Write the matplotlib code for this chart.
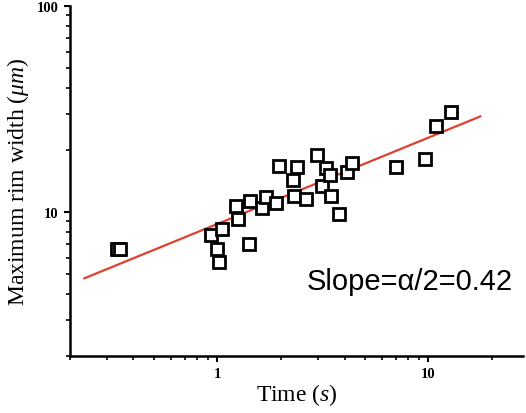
import matplotlib
matplotlib.use('Agg')
import matplotlib.pyplot as plt
from matplotlib.ticker import LogLocator, NullFormatter, FixedLocator, FixedFormatter

plt.rcParams['mathtext.fontset'] = 'custom'
plt.rcParams['mathtext.rm'] = 'Liberation Serif'
plt.rcParams['mathtext.it'] = 'Liberation Serif:italic'

# measured points (time in s, rim width in um)
time_s = [0.335, 0.345, 0.93, 1.00, 1.02, 1.05, 1.22, 1.25, 1.41, 1.42,
          1.63, 1.69, 1.89, 1.96, 2.27, 2.30, 2.38, 2.64, 2.95, 3.13,
          3.26, 3.43, 3.44, 3.76, 4.12, 4.35, 7.03, 9.6, 10.9, 12.8]
rim_width = [6.6, 6.6, 7.72, 6.58, 5.69, 8.26, 10.7, 9.25, 6.96, 11.3,
             10.5, 11.8, 11.1, 16.8, 14.3, 11.9, 16.6, 11.5, 18.9, 13.4,
             16.4, 15.2, 12.0, 9.74, 15.7, 17.3, 16.5, 18.1, 26.1, 30.6]

# fitted power law, endpoints
fit_x = [0.234, 17.6]
fit_y = [4.76, 29.1]

x_major = [1, 10]
y_major = [10, 100]

fig = plt.figure(figsize=(5.26, 4.14), dpi=100)
ax = fig.add_axes([0.133, 0.138, 0.861, 0.845])

ax.plot(fit_x, fit_y, color='#e0402e', lw=1.6, zorder=2)
ax.plot(time_s, rim_width, ls='none', marker='s', ms=8.5, mfc='white',
        mec='black', mew=2.0, zorder=3)

ax.set_xscale('log')
ax.set_yscale('log')
ax.set_xlim(0.2, 28)
ax.set_ylim(2, 100)

ax.spines['top'].set_visible(False)
ax.spines['right'].set_visible(False)
ax.spines['left'].set_linewidth(1.8)
ax.spines['bottom'].set_linewidth(1.8)

ax.xaxis.set_major_locator(FixedLocator(x_major))
ax.xaxis.set_major_formatter(FixedFormatter([str(v) for v in x_major]))
ax.yaxis.set_major_locator(FixedLocator(y_major))
ax.yaxis.set_major_formatter(FixedFormatter([str(v) for v in y_major]))
ax.xaxis.set_minor_locator(LogLocator(base=10, subs=range(2, 10)))
ax.yaxis.set_minor_locator(LogLocator(base=10, subs=range(2, 10)))
ax.xaxis.set_minor_formatter(NullFormatter())
ax.yaxis.set_minor_formatter(NullFormatter())

ax.tick_params(which='major', direction='out', length=4, width=1.5, pad=4)
ax.tick_params(which='minor', direction='out', length=3, width=1.2)
for lab in ax.get_xticklabels() + ax.get_yticklabels():
    lab.set_fontfamily('Liberation Serif')
    lab.set_fontweight('bold')
    lab.set_fontsize(10.5)

ax.set_xlabel('Time ($\\mathit{s}$)', fontsize=17, family='Liberation Serif', labelpad=1)
ax.set_ylabel('Maximum rim width ($\\mathit{\\mu m}$)', fontsize=17,
              family='Liberation Serif', labelpad=4)

ax.text(0.978, 0.214, 'Slope=\u03b1/2=0.42', transform=ax.transAxes, ha='right',
        va='center', fontsize=21, family='Liberation Sans')

fig.savefig('out.png', dpi=100)
